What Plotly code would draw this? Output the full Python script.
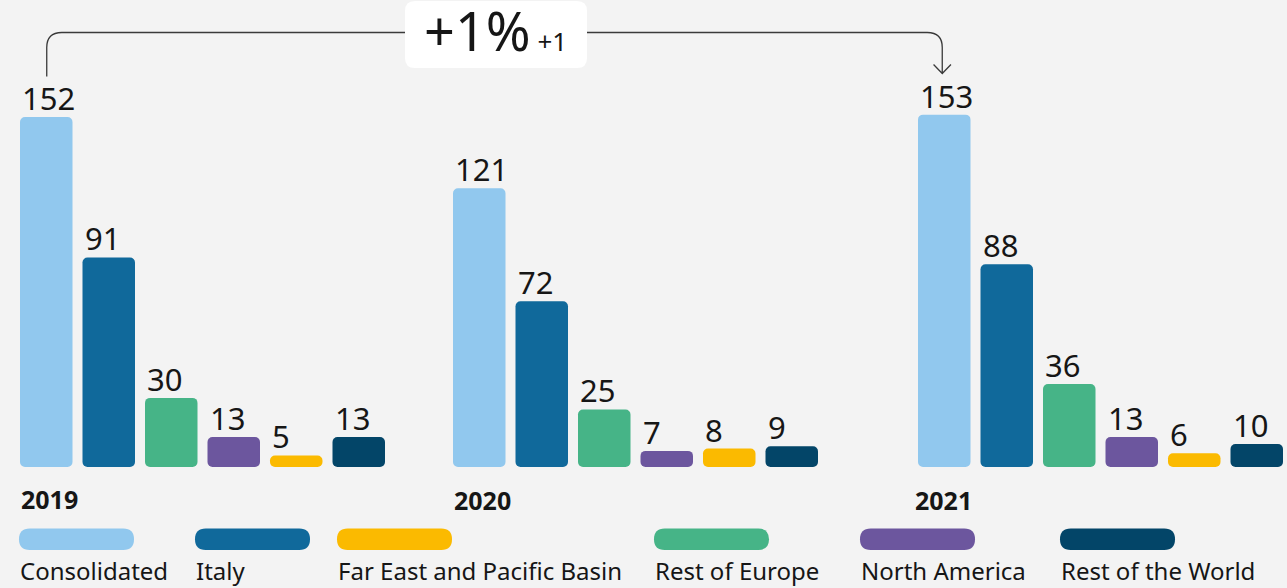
import plotly.graph_objects as go

W, H = 1287, 588

# ---- data -------------------------------------------------------------
years = ["2019", "2020", "2021"]
regions = ["Consolidated", "Italy", "Rest of Europe", "North America",
           "Far East and Pacific Basin", "Rest of the World"]
values_2019 = [152, 91, 30, 13, 5, 13]
values_2020 = [121, 72, 25, 7, 8, 9]
values_2021 = [153, 88, 36, 13, 6, 10]
legend_order = ["Consolidated", "Italy", "Far East and Pacific Basin",
                "Rest of Europe", "North America", "Rest of the World"]

# ---- styling ----------------------------------------------------------
colors = {
    "Consolidated": "#91C8EE",
    "Italy": "#10699B",
    "Rest of Europe": "#46B487",
    "North America": "#6C569E",
    "Far East and Pacific Basin": "#FBBA00",
    "Rest of the World": "#034568",
}
BG = "#F3F3F3"
INK = "#161616"
LINE = "#3A3A3A"
FONT = "Noto Sans"

group_left_px = [20, 453, 918]          # left edge of each year's group
pitch_px = 62.5                          # distance between bar slots
bar_frac = 0.84                          # bar width as share of a slot
group_span_px = pitch_px * (len(regions) - 1 + bar_frac)
baseline_px = 467
px_per_unit = 2.303
y_max = baseline_px / px_per_unit
radius = 5
lift = 1e-3          # a non-zero base makes both bar ends rounded


def px_x(p):
    return p / W


def px_y(p):
    return 1 - p / H


series = [values_2019, values_2020, values_2021]
bar_colors = [colors[r] for r in regions]

fig = go.Figure()
layout_axes = {}
annotations = []

for g, (year, vals) in enumerate(zip(years, series)):
    xname = "x" if g == 0 else f"x{g + 1}"
    axkey = "xaxis" if g == 0 else f"xaxis{g + 1}"
    fig.add_trace(go.Bar(
        x=regions, y=[v - lift for v in vals], base=[lift] * len(vals),
        width=bar_frac,
        marker=dict(color=bar_colors, cornerradius=radius, line=dict(width=0)),
        xaxis=xname, yaxis="y", hoverinfo="skip", showlegend=False))

    left = group_left_px[g]
    layout_axes[axkey] = dict(
        domain=[px_x(left), px_x(left + group_span_px)],
        range=[-bar_frac / 2, len(regions) - 1 + bar_frac / 2],
        type="category", categoryorder="array", categoryarray=regions,
        visible=False, anchor="y", fixedrange=True)

    # value labels, left-aligned with each bar
    for i, v in enumerate(vals):
        annotations.append(dict(
            x=i - bar_frac / 2, y=v, xref=xname, yref="y",
            text=str(v), showarrow=False, xanchor="left", yanchor="bottom",
            yshift=-4, font=dict(family=FONT, size=31, color=INK)))

    # year label under the group
    annotations.append(dict(
        x=0, xref=f"{xname} domain", y=px_y(500 if g else 499), yref="paper",
        text=f"<b>{year}</b>", showarrow=False, xanchor="left", yanchor="middle",
        xshift=-5 if g == 2 else -1,
        font=dict(family=FONT, size=25, color=INK)))


def bar_center_px(g, i):
    return group_left_px[g] + i * pitch_px + pitch_px * bar_frac / 2


def to_path(seq):
    out = ""
    for p in seq:
        cmd, coords = p[0], p[1:]
        xy = [f"{px_x(coords[k]):.5f},{px_y(coords[k + 1]):.5f}"
              for k in range(0, len(coords), 2)]
        out += cmd + " " + " ".join(xy) + " "
    return out.strip()


# ---- change bracket between first and last year ------------------------
first, last = series[0][0], series[-1][0]
diff = last - first
pct = round(100 * diff / first)

x0 = bar_center_px(0, 0) + 0.5
x1 = bar_center_px(2, 0) - 2
y_start, y_top, y_end, r = 76.5, 32.5, 73.5, 15
bracket = to_path([
    ("M", x0, y_start), ("L", x0, y_top + r), ("Q", x0, y_top, x0 + r, y_top),
    ("L", x1 - r, y_top), ("Q", x1, y_top, x1, y_top + r), ("L", x1, y_end),
    ("M", x1 - 8.7, y_end - 9), ("L", x1, y_end), ("L", x1 + 8.7, y_end - 9),
])
shapes = [dict(type="path", path=bracket, xref="paper", yref="paper",
               line=dict(color=LINE, width=1.3), fillcolor="rgba(0,0,0,0)")]


def rounded_rect(xl, yt, xr, yb, rr):
    """Rounded rectangle path in paper coordinates from pixel bounds."""
    return to_path([
        ("M", xl + rr, yt), ("L", xr - rr, yt), ("Q", xr, yt, xr, yt + rr),
        ("L", xr, yb - rr), ("Q", xr, yb, xr - rr, yb), ("L", xl + rr, yb),
        ("Q", xl, yb, xl, yb - rr), ("L", xl, yt + rr), ("Q", xl, yt, xl + rr, yt),
    ]) + " Z"


box = (405, 1, 587, 68)
shapes.append(dict(type="path", path=rounded_rect(*box, 10), xref="paper", yref="paper",
                   line=dict(width=0), fillcolor="white"))
annotations.append(dict(
    x=px_x((box[0] + box[2]) / 2), y=px_y(30), xref="paper", yref="paper",
    text=f"{pct:+d}%<span style='font-size:26px'> {diff:+d}</span>",
    showarrow=False, xanchor="center", yanchor="middle", xshift=-1,
    font=dict(family=FONT, size=54, color=INK)))

# ---- legend as pills with labels ---------------------------------------
legend_left_px = [19, 195, 337, 654, 860, 1060]
pill_w, pill_top, pill_bot = 115, 528.5, 550
for name, lx in zip(legend_order, legend_left_px):
    shapes.append(dict(type="path", path=rounded_rect(lx, pill_top, lx + pill_w, pill_bot, 10.7),
                       xref="paper", yref="paper", line=dict(width=0),
                       fillcolor=colors[name]))
    annotations.append(dict(
        x=px_x(lx), y=px_y(570.5), xref="paper", yref="paper", text=name,
        showarrow=False, xanchor="left", yanchor="middle", xshift=-1,
        font=dict(family=FONT, size=24, color=INK)))

fig.update_layout(
    width=W, height=H, margin=dict(l=0, r=0, t=0, b=0),
    paper_bgcolor=BG, plot_bgcolor=BG,
    barmode="overlay", showlegend=False,
    yaxis=dict(domain=[px_y(baseline_px), 1], range=[0, y_max], visible=False,
               fixedrange=True),
    shapes=shapes, annotations=annotations,
    **layout_axes,
)

fig.write_html("out.html")
